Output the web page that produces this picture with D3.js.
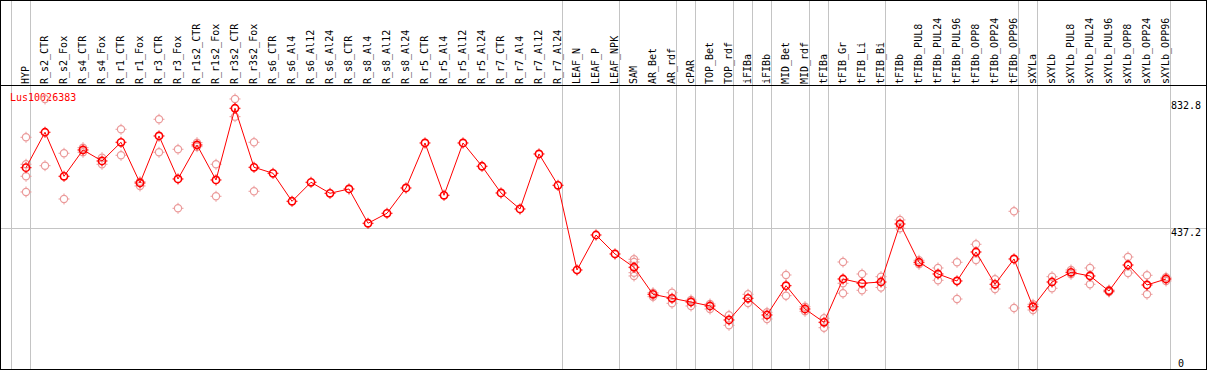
<!DOCTYPE html>
<html><head><meta charset="utf-8">
<script src="https://cdn.jsdelivr.net/npm/d3@7"></script>
<style>body{margin:0;background:#fff}svg{display:block}</style>
</head><body>
<svg id="c" width="1209" height="370"></svg>
<script>
const geneLabel = "Lus10026383";
const categories = ["HYP","R_s2_CTR","R_s2_Fox","R_s4_CTR","R_s4_Fox","R_r1_CTR","R_r1_Fox","R_r3_CTR","R_r3_Fox","R_r1s2_CTR","R_r1s2_Fox","R_r3s2_CTR","R_r3s2_Fox","R_s6_CTR","R_s6_Al4","R_s6_Al12","R_s6_Al24","R_s8_CTR","R_s8_Al4","R_s8_Al12","R_s8_Al24","R_r5_CTR","R_r5_Al4","R_r5_Al12","R_r5_Al24","R_r7_CTR","R_r7_Al4","R_r7_Al12","R_r7_Al24","LEAF_N","LEAF_P","LEAF_NPK","SAM","AR_Bet","AR_rdf","cPAR","TOP_Bet","TOP_rdf","iFIBa","iFIBb","MID_Bet","MID_rdf","tFIBa","tFIB_Gr","tFIB_Li","tFIB_Bi","tFIBb","tFIBb_PUL8","tFIBb_PUL24","tFIBb_PUL96","tFIBb_OPP8","tFIBb_OPP24","tFIBb_OPP96","sXYLa","sXYLb","sXYLb_PUL8","sXYLb_PUL24","sXYLb_PUL96","sXYLb_OPP8","sXYLb_OPP24","sXYLb_OPP96"];
const means = [627.1,737.7,600.2,682.4,648.0,706.4,579.3,726.1,591.8,698.0,588.7,812.6,628.3,609.6,522.2,581.5,547.1,560.6,453.5,484.7,563.7,704.2,540.9,704.2,631.5,548.1,498.1,669.9,572.1,307.6,416.9,357.6,316.1,231.7,219.2,207.7,195.2,151.5,219.2,167.1,258.6,185.8,144.3,279.5,266.1,270.1,451.3,331.7,295.1,273.3,363.8,263.0,342.0,193.0,270.1,300.4,288.9,242.0,323.2,260.8,279.5];
const replicates = [
 [722.0,637.7,600.2,551.2],[841.6,633.3],[672.1,529.3],[689.6,675.2],[658.3,637.7],[747.0,665.8],[583.4,570.0],[778.3,675.2],[684.6,500.3],[705.2,692.7],[637.7,537.8],[841.6,786.4],[706.4,553.4],
 [],[],[],[],[],[],[],[],[],[],[],[],[],[],[],[],
 [],[],[],
 [341.0,332.6,299.2,288.9],[236.7,224.2],[236.7,203.6],[213.9,195.2],[201.4,185.8],[166.1,134.9],[231.7,204.6],[175.5,154.6],[292.0,227.4],[193.0,178.6],[156.8,127.4],[332.6,266.1,234.9],[295.1,244.2],[286.7,253.0],
 [463.8,437.8],[337.9,325.4],[313.9,275.5],[331.7,217.0],[387.9,338.8],[278.6,248.3],[490.9,188.9],
 [200.5,182.7],[286.7,250.5],[307.6,294.2],[313.9,263.0],[245.2,238.9],[348.2,298.2],[291.1,231.7],[284.8,273.3]
];
const groupEnds = ["HYP","R_r7_Al24","LEAF_NPK","AR_rdf","cPAR","TOP_rdf","iFIBa","iFIBb","MID_rdf","tFIBa","tFIB_Bi","tFIBb_OPP96","sXYLa","sXYLb_OPP96"];
const tickValues = [0, 437.2, 832.8];
const tickLabels = ["0", "437.2", "832.8"];
const gridValues = [437.2];

const W = 1209, H = 370;
const svg = d3.select("#c");
const font = "'DejaVu Sans Mono', monospace";
const x = d3.scalePoint().domain(categories).range([26, 1166]);
const y = d3.scaleLinear().domain([0, 832.8]).range([368.5, 101.8]);
const step = x.step();

// vertical group separators
const sepX = [x(categories[0]) - step + 4.5].concat(groupEnds.map(c => x(c) + 4.5));
svg.selectAll("line.sep").data(sepX).join("line")
  .attr("x1", d => d).attr("x2", d => d).attr("y1", 0).attr("y2", H)
  .attr("stroke", "#c4c4c4").attr("stroke-width", 1);

// horizontal grid
svg.selectAll("line.grid").data(gridValues).join("line")
  .attr("x1", 0).attr("x2", 1206).attr("y1", d => y(d)).attr("y2", d => y(d))
  .attr("stroke", "#c4c4c4").attr("stroke-width", 1);

// frame
const fr = svg.append("g").attr("stroke", "#000").attr("stroke-width", 1);
fr.append("line").attr("x1", 0).attr("x2", 1207).attr("y1", 0.5).attr("y2", 0.5);
fr.append("line").attr("x1", 0).attr("x2", 1207).attr("y1", 85.5).attr("y2", 85.5);
fr.append("line").attr("x1", 0).attr("x2", 1207).attr("y1", 369.5).attr("y2", 369.5);
fr.append("line").attr("x1", 0.5).attr("x2", 0.5).attr("y1", 0).attr("y2", H);
fr.append("line").attr("x1", 1206.5).attr("x2", 1206.5).attr("y1", 0).attr("y2", H);

// column labels
svg.selectAll("text.col").data(categories).join("text")
  .attr("transform", d => `translate(${x(d) + 3},84) rotate(-90)`)
  .attr("font-family", font).attr("font-size", 10).attr("fill", "#000")
  .text(d => d);

// y tick labels
svg.selectAll("text.tick").data(tickValues).join("text")
  .attr("x", (d, i) => 1171 + (tickLabels[i].length < 3 ? 7 : 0))
  .attr("y", d => Math.round(Math.min(y(d) + 7.5, 367)))
  .attr("font-family", font).attr("font-size", 10).attr("fill", "#000")
  .text((d, i) => tickLabels[i]);

// gene label
svg.append("text").attr("x", 10).attr("y", 101)
  .attr("font-family", font).attr("font-size", 10).attr("fill", "#f00")
  .text(geneLabel);

function marker(g, color, sw) {
  g.append("circle").attr("r", 3.6).attr("fill", "none").attr("stroke", color).attr("stroke-width", sw);
  g.append("path").attr("d", "M0,-5.5V-4M0,4V5.5M-5.5,0H-4M4,0H5.5")
    .attr("stroke", color).attr("stroke-width", 1).attr("fill", "none");
}

// replicates
const reps = [];
categories.forEach((c, i) => replicates[i].forEach(v => reps.push({c, v})));
svg.selectAll("g.rep").data(reps).join("g")
  .attr("transform", d => `translate(${x(d.c)},${y(d.v)})`)
  .each(function() { marker(d3.select(this), "#eb9a9a", 1.2); });

// mean line
const line = d3.line().x((d, i) => x(categories[i])).y(d => y(d));
svg.append("path").datum(means).attr("d", line)
  .attr("fill", "none").attr("stroke", "#f00").attr("stroke-width", 1);

// mean markers
svg.selectAll("g.mean").data(means).join("g")
  .attr("transform", (d, i) => `translate(${x(categories[i])},${y(d)})`)
  .each(function() { marker(d3.select(this), "#f00", 1.6); });
</script>
</body></html>
